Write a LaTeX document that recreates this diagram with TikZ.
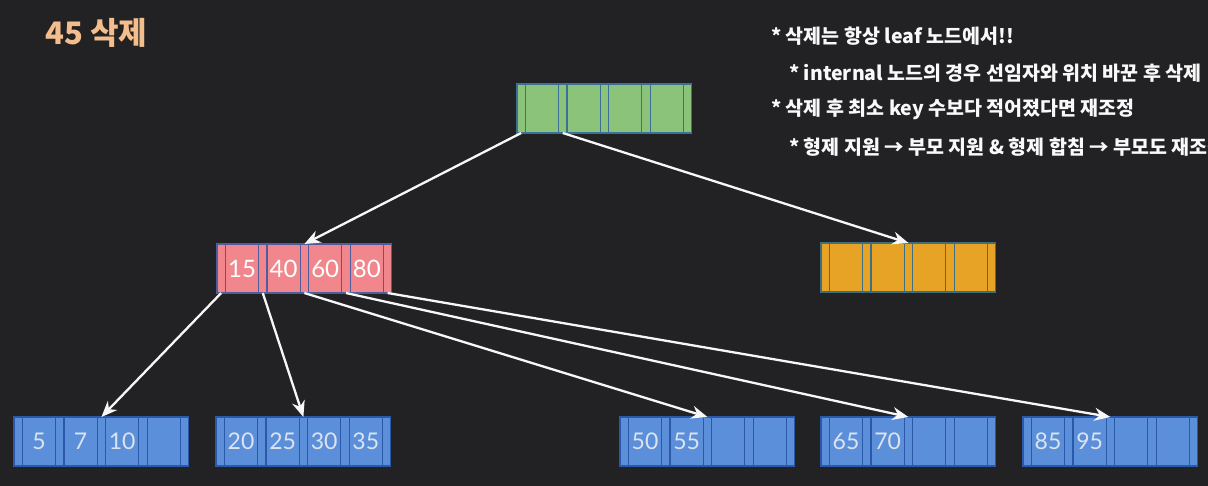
\documentclass[tikz,border=0pt]{standalone}
\usepackage{fontspec}
\setmainfont{Lato}
\newfontfamily\kr{Noto Sans CJK KR}
\usetikzlibrary{arrows.meta}
\definecolor{bg}{HTML}{222124}
\definecolor{titlec}{HTML}{F4BE8C}
\definecolor{gfill}{HTML}{8BC37A}
\definecolor{gdraw}{HTML}{3B7196}
\definecolor{pfill}{HTML}{F1878C}
\definecolor{pdraw}{HTML}{4F5D9E}
\definecolor{ofill}{HTML}{E6A325}
\definecolor{odraw}{HTML}{3E6F7F}
\definecolor{lfill}{HTML}{5B8FDA}
\definecolor{ldraw}{HTML}{2B58A8}
\definecolor{ltext}{HTML}{DCE3EE}
\tikzset{
  cell/.style={draw, line width=1.2pt, minimum height=49pt, inner sep=0pt, outer sep=0pt, anchor=north west},
  ptr/.style={cell, minimum width=8.4pt},
  keyc/.style={cell, minimum width=33.2pt},
  greenn/.style={fill=gfill, draw=gdraw},
  pinkn/.style={fill=pfill, draw=pdraw, text=white, font=\fontsize{24}{24}\selectfont},
  orangen/.style={fill=ofill, draw=odraw},
  leafn/.style={fill=lfill, draw=ldraw, text=ltext, font=\fontsize{23}{23}\selectfont},
  link/.style={draw=white!94!gray, line width=2.3pt, -{Stealth[length=16pt,width=13pt]}},
  note/.style={anchor=west, inner sep=0pt, text=white!95!gray, font=\kr\bfseries\fontsize{19.5}{19.5}\selectfont},
}
\newcommand\btnode[8]{%
  \node[ptr,#4] (#1p1) at (#2,#3) {};
  \node[keyc,#4] (#1k1) at (#1p1.north east) {#5};
  \node[ptr,#4] (#1p2) at (#1k1.north east) {};
  \node[keyc,#4] (#1k2) at (#1p2.north east) {#6};
  \node[ptr,#4] (#1p3) at (#1k2.north east) {};
  \node[keyc,#4] (#1k3) at (#1p3.north east) {#7};
  \node[ptr,#4] (#1p4) at (#1k3.north east) {};
  \node[keyc,#4] (#1k4) at (#1p4.north east) {#8};
  \node[ptr,#4] (#1p5) at (#1k4.north east) {};
}
\begin{document}
\begin{tikzpicture}[x=1pt,y=-1pt]
\useasboundingbox (0,0) rectangle (1208,486);
\fill[bg] (0,0) rectangle (1208,486);
\begin{scope}
\clip (0,0) rectangle (1208,486);
\node[anchor=west, inner sep=0pt, text=titlec, font=\kr\bfseries\fontsize{31}{31}\selectfont] (title) at (45,33) {45 삭제};
\node[note] (n1) at (771,36) {* 삭제는 항상 leaf 노드에서!!};
\node[note] (n2) at (789,73) {* internal 노드의 경우 선임자와 위치 바꾼 후 삭제};
\node[note] (n3) at (771,109) {* 삭제 후 최소 key 수보다 적어졌다면 재조정};
\node[note] (n4) at (789,147) {* 형제 지원 → 부모 지원 \& 형제 합침 → 부모도 재조정};

\btnode{G}{517}{84}{greenn}{}{}{}{}
\btnode{P}{217}{244}{pinkn}{15}{40}{60}{80}
\btnode{O}{821}{243}{orangen}{}{}{}{}
\btnode{La}{14}{417}{leafn}{5}{7}{10}{}
\btnode{Lb}{216}{417}{leafn}{20}{25}{30}{35}
\btnode{Lc}{620}{417}{leafn}{50}{55}{}{}
\btnode{Ld}{821}{417}{leafn}{65}{70}{}{}
\btnode{Le}{1023}{417}{leafn}{85}{95}{}{}

\draw[link] (Gp1.south) -- (Pp3.north);
\draw[link] (Gp2.south) -- (Op3.north);
\draw[link] (Pp1.south) -- (Lap3.north);
\draw[link] (Pp2.south) -- (Lbp3.north);
\draw[link] (Pp3.south) -- (Lcp3.north);
\draw[link] (Pp4.south) -- (Ldp3.north);
\draw[link] (Pp5.south) -- (Lep3.north);
\end{scope}
\end{tikzpicture}
\end{document}
